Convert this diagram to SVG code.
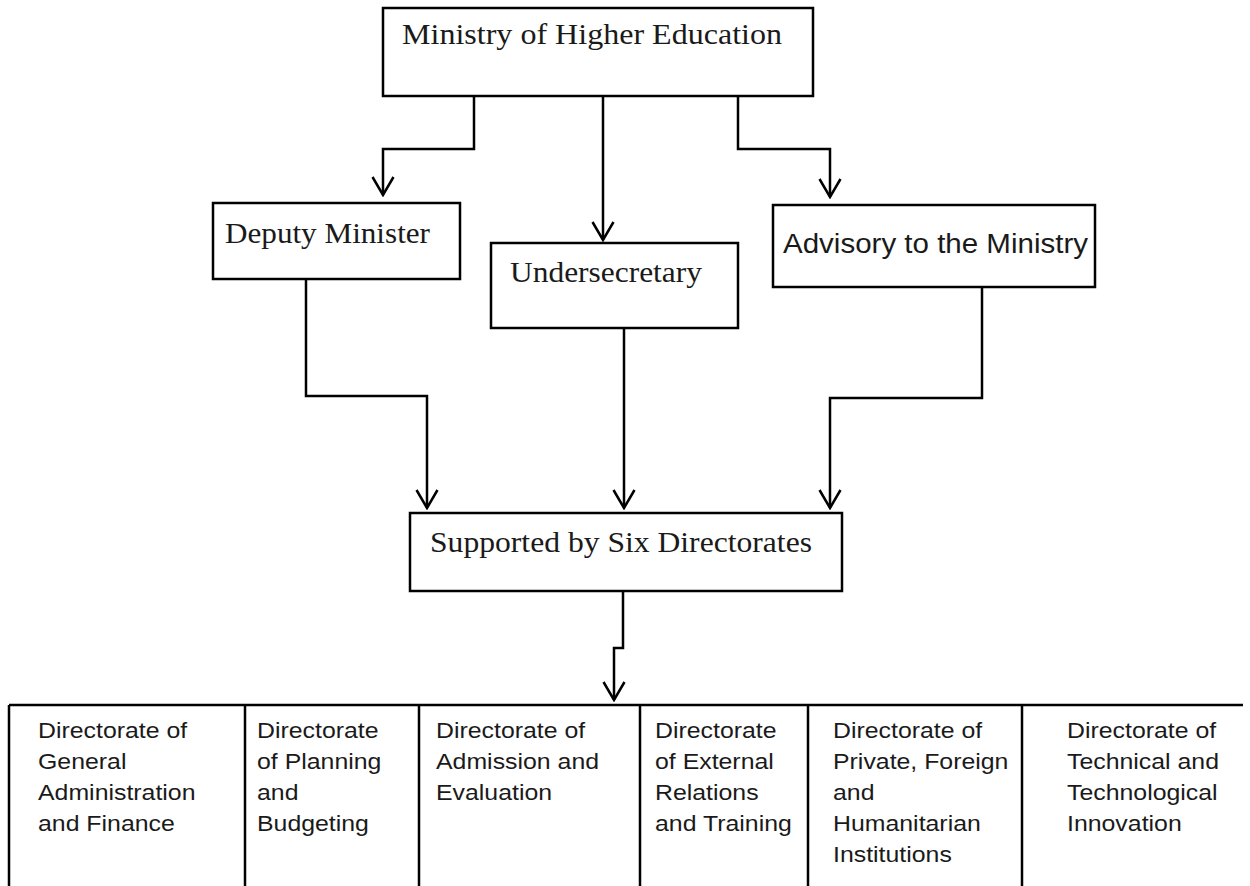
<svg xmlns="http://www.w3.org/2000/svg" width="1250" height="886" viewBox="0 0 1250 886">
<style>
.box{fill:#fff;stroke:#000;stroke-width:2.5}
.serif{font-family:"Liberation Serif","Times New Roman",serif;font-size:29px;fill:#1a1a1a}
.sans{font-family:"Liberation Sans",Arial,sans-serif;fill:#1a1a1a}
.cell{font-family:"Liberation Sans",Arial,sans-serif;font-size:22px;fill:#1a1a1a}
.conn{fill:none;stroke:#000;stroke-width:2.5}
.grid{fill:none;stroke:#000;stroke-width:2.5}
</style>
<defs>
<marker id="arr" viewBox="-20 -12 22 24" refX="0" refY="0" markerWidth="22" markerHeight="24" markerUnits="userSpaceOnUse" orient="auto">
<path d="M-18,-10.5 L0,0 L-18,10.5" fill="none" stroke="#000" stroke-width="2.5"/>
</marker>
</defs>
<rect width="1250" height="886" fill="#fff"/>

<g id="connectors">
<path class="conn" d="M474 96 V149 H383 V195" marker-end="url(#arr)"/>
<path class="conn" d="M603 96 V240" marker-end="url(#arr)"/>
<path class="conn" d="M738 96 V149 H830 V197" marker-end="url(#arr)"/>
<path class="conn" d="M306 279 V396 H427 V508" marker-end="url(#arr)"/>
<path class="conn" d="M624 328 V508" marker-end="url(#arr)"/>
<path class="conn" d="M982 287 V398 H830 V508" marker-end="url(#arr)"/>
<path class="conn" d="M623 591 V648 H614 V700" marker-end="url(#arr)"/>
</g>

<g id="ministry">
<rect class="box" x="383" y="8" width="430" height="88"/>
<text class="serif" x="402" y="44" textLength="380" lengthAdjust="spacingAndGlyphs">Ministry of Higher Education</text>
</g>
<g id="deputy">
<rect class="box" x="213" y="203" width="247" height="76"/>
<text class="serif" x="225" y="243" textLength="205" lengthAdjust="spacingAndGlyphs">Deputy Minister</text>
</g>
<g id="undersecretary">
<rect class="box" x="491" y="243" width="247" height="85"/>
<text class="serif" x="510" y="282" textLength="192" lengthAdjust="spacingAndGlyphs">Undersecretary</text>
</g>
<g id="advisory">
<rect class="box" x="773" y="205" width="322" height="82"/>
<text class="sans" x="783" y="253" font-size="27" textLength="305" lengthAdjust="spacingAndGlyphs">Advisory to the Ministry</text>
</g>
<g id="supported">
<rect class="box" x="410" y="513" width="432" height="78"/>
<text class="serif" x="430" y="552" textLength="382" lengthAdjust="spacingAndGlyphs">Supported by Six Directorates</text>
</g>

<g id="directorates">
<path class="grid" d="M9 705 H1243 M9 705 V886 M245 705 V886 M419 705 V886 M640 705 V886 M808 705 V886 M1022 705 V886"/>
<g id="dir-general">
<text class="cell" transform="translate(38,0) scale(1.13,1)"><tspan x="0" y="738">Directorate of</tspan><tspan x="0" y="769">General</tspan><tspan x="0" y="800">Administration</tspan><tspan x="0" y="831">and Finance</tspan></text>
</g>
<g id="dir-planning">
<text class="cell" transform="translate(257,0) scale(1.13,1)"><tspan x="0" y="738">Directorate</tspan><tspan x="0" y="769">of Planning</tspan><tspan x="0" y="800">and</tspan><tspan x="0" y="831">Budgeting</tspan></text>
</g>
<g id="dir-admission">
<text class="cell" transform="translate(436,0) scale(1.13,1)"><tspan x="0" y="738">Directorate of</tspan><tspan x="0" y="769">Admission and</tspan><tspan x="0" y="800">Evaluation</tspan></text>
</g>
<g id="dir-external">
<text class="cell" transform="translate(655,0) scale(1.13,1)"><tspan x="0" y="738">Directorate</tspan><tspan x="0" y="769">of External</tspan><tspan x="0" y="800">Relations</tspan><tspan x="0" y="831">and Training</tspan></text>
</g>
<g id="dir-private">
<text class="cell" transform="translate(833,0) scale(1.13,1)"><tspan x="0" y="738">Directorate of</tspan><tspan x="0" y="769">Private, Foreign</tspan><tspan x="0" y="800">and</tspan><tspan x="0" y="831">Humanitarian</tspan><tspan x="0" y="862">Institutions</tspan></text>
</g>
<g id="dir-technical">
<text class="cell" transform="translate(1067,0) scale(1.13,1)"><tspan x="0" y="738">Directorate of</tspan><tspan x="0" y="769">Technical and</tspan><tspan x="0" y="800">Technological</tspan><tspan x="0" y="831">Innovation</tspan></text>
</g>
</g>
</svg>
